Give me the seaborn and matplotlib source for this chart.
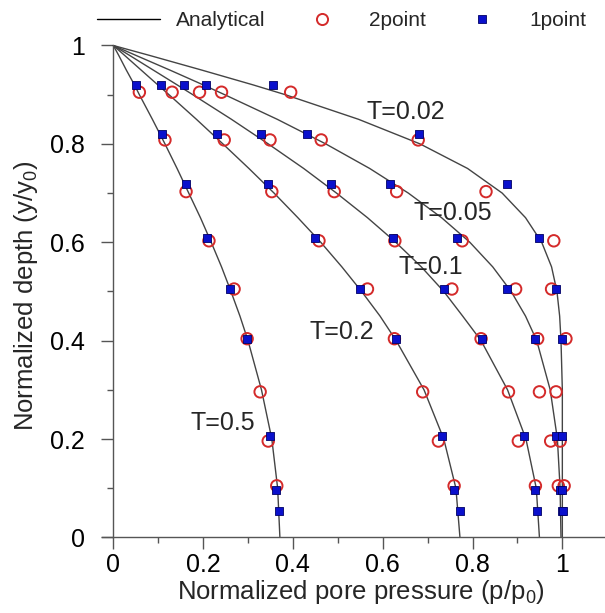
import numpy as np
import pandas as pd
import matplotlib
matplotlib.use('Agg')
import matplotlib.pyplot as plt
import seaborn as sns
from matplotlib.lines import Line2D
from matplotlib.ticker import MultipleLocator, FuncFormatter

# analytical curves, depth y/y0 shared by all curves
DEPTH = [1.0, 0.98, 0.95, 0.92, 0.90, 0.85, 0.80, 0.75, 0.70, 0.65,
         0.60, 0.55, 0.50, 0.45, 0.40, 0.30, 0.20, 0.10, 0.0]
T_VALUES = ['0.02', '0.05', '0.1', '0.2', '0.5']
P_T002 = [0, .080, .197, .311, .383, .546, .683, .789, .866, .918,
          .954, .976, .988, .994, .997, 1.0, 1.0, 1.0, 1.0]
P_T005 = [0, .050, .126, .200, .248, .365, .473, .571, .657, .731,
          .794, .845, .886, .918, .943, .973, .989, .995, .997]
P_T01 = [0, .036, .089, .142, .177, .263, .345, .424, .497, .566,
         .629, .686, .736, .778, .819, .878, .919, .942, .949]
P_T02 = [0, .025, .062, .099, .124, .185, .244, .302, .358, .411,
         .462, .509, .553, .594, .630, .692, .736, .763, .772]
P_T05 = [0, .012, .029, .047, .058, .087, .115, .142, .168, .194,
         .218, .241, .262, .282, .300, .330, .353, .366, .371]

# 1point results (blue squares), one row per depth
ONE_DEPTH = [0.92, 0.82, 0.718, 0.608, 0.505, 0.404, 0.207, 0.097, 0.054]
ONE_P = [[0.051, 0.107, 0.157, 0.207, 0.356],
         [0.108, 0.230, 0.329, 0.431, 0.681],
         [0.161, 0.345, 0.484, 0.616, 0.877],
         [0.209, 0.449, 0.622, 0.765, 0.948],
         [0.260, 0.549, 0.737, 0.876, 0.985],
         [0.298, 0.629, 0.820, 0.939, 0.999],
         [0.349, 0.731, 0.915, 0.986, 1.000],
         [0.362, 0.759, 0.938, 0.995, 1.000],
         [0.370, 0.773, 0.944, 0.999, 1.002]]

# 2point results (red open circles)
TWO_DEPTH = [0.905, 0.808, 0.703, 0.603, 0.505, 0.404, 0.296, 0.196, 0.105]
TWO_P = [[0.058, 0.131, 0.192, 0.241, 0.395],
         [0.115, 0.247, 0.349, 0.463, 0.679],
         [0.162, 0.353, 0.492, 0.631, 0.830],
         [0.213, 0.458, 0.627, 0.777, 0.981],
         [0.269, 0.566, 0.754, 0.896, 0.976],
         [0.298, 0.626, 0.819, 0.945, 1.008],
         [0.327, 0.689, 0.880, 0.949, 0.986],
         [0.345, 0.724, 0.902, 0.974, 0.995],
         [0.364, 0.759, 0.940, 0.991, 1.004]]

curves = [P_T002, P_T005, P_T01, P_T02, P_T05]
line_df = pd.concat([pd.DataFrame({'p': c, 'depth': DEPTH, 'T': t})
                     for c, t in zip(curves, T_VALUES)], ignore_index=True)
one_df = pd.DataFrame([(p, d) for d, row in zip(ONE_DEPTH, ONE_P) for p in row],
                      columns=['p', 'depth'])
two_df = pd.DataFrame([(p, d) for d, row in zip(TWO_DEPTH, TWO_P) for p in row],
                      columns=['p', 'depth'])

sns.set_style('ticks')
plt.rcParams['font.family'] = ['Liberation Sans', 'DejaVu Sans']
plt.rcParams['mathtext.fontset'] = 'custom'
plt.rcParams['mathtext.rm'] = 'Liberation Sans'
plt.rcParams['mathtext.it'] = 'Liberation Sans:italic'

RED = '#d42a2a'
BLUE = '#0a10cc'
AX_C = '#555555'

fig = plt.figure(figsize=(6.05, 6.13), dpi=100)
ax = fig.add_axes([0.168, 0.1232, 0.832, 0.8026])

sns.lineplot(data=line_df, x='p', y='depth', units='T', estimator=None,
             sort=False, color='#444444', lw=1.0, ax=ax, legend=False)
sns.scatterplot(data=two_df, x='p', y='depth', marker='o', s=68,
                facecolor='none', edgecolor=RED, linewidth=1.4, ax=ax, zorder=3)
sns.scatterplot(data=one_df, x='p', y='depth', marker='s', s=38,
                color=BLUE, edgecolor='#000066', linewidth=0.6, ax=ax, zorder=4)

ax.set_xlim(-0.026, 1.095)
ax.set_ylim(0, 1)
ax.spines['left'].set_position(('data', 0))
ax.spines['top'].set_visible(False)
ax.spines['right'].set_visible(False)
for s in ['left', 'bottom']:
    ax.spines[s].set_color(AX_C)
    ax.spines[s].set_linewidth(1.0)

fmt = FuncFormatter(lambda v, _: f'{v:g}')
for axis in [ax.xaxis, ax.yaxis]:
    axis.set_major_locator(MultipleLocator(0.2))
    axis.set_minor_locator(MultipleLocator(0.1))
    axis.set_major_formatter(fmt)
ax.tick_params(which='both', direction='out', color=AX_C, width=1.0,
               labelsize=18, labelcolor='black')
ax.tick_params(which='major', length=8.5)
ax.tick_params(which='minor', length=4.5)
ax.tick_params(axis='y', which='major', pad=12)
ax.tick_params(axis='x', which='major', pad=3)

ax.set_xlabel(r'Normalized pore pressure (p/p$_0$)', fontsize=18.5)
ax.set_ylabel(r'Normalized depth (y/y$_0$)', fontsize=18.5)
ax.xaxis.set_label_coords(0.515, -0.082)
ax.yaxis.set_label_coords(-0.123, 0.491)

for label, x, y in [('T=0.02', 0.564, 0.850), ('T=0.05', 0.668, 0.645),
                    ('T=0.1', 0.635, 0.535), ('T=0.2', 0.438, 0.403),
                    ('T=0.5', 0.171, 0.2185)]:
    ax.text(x, y, label, fontsize=18, ha='left', va='baseline')

handles = [Line2D([], [], color='black', lw=1.0),
           Line2D([], [], ls='none', marker='o', ms=8, mfc='none', mec=RED, mew=1.4),
           Line2D([], [], ls='none', marker='s', ms=6, mfc=BLUE, mec='#000066', mew=0.6)]
fig.legend(handles, ['Analytical', '2point', '1point'], loc='center',
           bbox_to_anchor=(0.565, 0.966), ncol=3, frameon=False, fontsize=15,
           handlelength=3.0, handletextpad=0.77, columnspacing=1.2)

fig.savefig('out.png', dpi=100)
